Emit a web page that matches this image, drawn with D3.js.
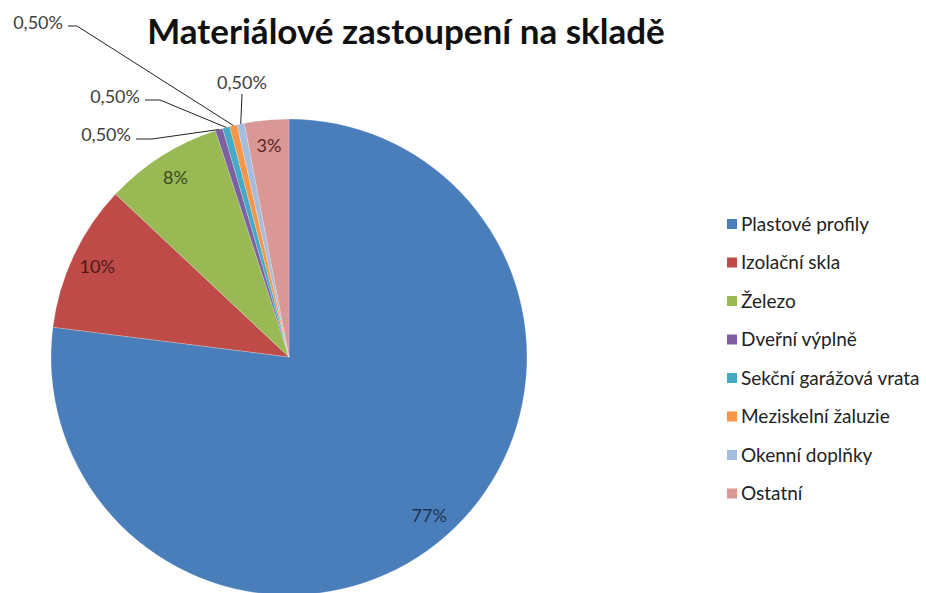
<!DOCTYPE html>
<html>
<head>
<meta charset="utf-8">
<script src="https://cdn.jsdelivr.net/npm/d3@7"></script>
<style>
  body { margin: 0; background: #fff; }
  svg { display: block; font-family: Lato, "Open Sans", sans-serif; }
</style>
</head>
<body>
<svg id="chart"></svg>
<script>
// data
const categories = [
  "Plastové profily",
  "Izolační skla",
  "Železo",
  "Dveřní výplně",
  "Sekční garážová vrata",
  "Meziskelní žaluzie",
  "Okenní doplňky",
  "Ostatní",
];
const values = [77, 10, 8, 0.5, 0.5, 0.5, 0.5, 3];
const valueLabels = ["77%", "10%", "8%", "0,50%", "0,50%", "0,50%", "0,50%", "3%"];
const colors = ["#4A7EBB", "#BE4B48", "#98B954", "#7D60A0", "#46AAC5", "#F79646", "#A5BDDD", "#D99795"];
const labelColors = ["#1c3354", "#4d1a19", "#3b4a20", "#404040", "#404040", "#404040", "#404040", "#5a2322"];

// callout labels for the tiny slices: [index, label x, label y, elbow x, elbow y]
const callouts = [
  [3, 131, 135, 152, 139],
  [4, 140, 97, 160, 100],
  [5, 63, 23, 77, 26],
  [6, 240, 83, 242, 94],
];

const width = 926, height = 593;
const cx = 289, cy = 357, r = 238;

const svg = d3.select("#chart").attr("width", width).attr("height", height);

svg.append("text")
  .attr("x", 406)
  .attr("y", 44)
  .attr("text-anchor", "middle")
  .attr("font-weight", "bold")
  .attr("font-size", 35)
  .attr("fill", "#111")
  .text("Materiálové zastoupení na skladě");

const pie = d3.pie().sort(null).value((d) => d);
const arcs = pie(values);
const arc = d3.arc().innerRadius(0).outerRadius(r);
const labelArc = d3.arc().innerRadius(212).outerRadius(212);
const edgeArc = d3.arc().innerRadius(r).outerRadius(r);

const g = svg.append("g").attr("transform", `translate(${cx},${cy})`);

g.selectAll("path")
  .data(arcs)
  .join("path")
  .attr("d", arc)
  .attr("fill", (d, i) => colors[i])
  .attr("stroke", "rgba(255,255,255,0.35)")
  .attr("stroke-width", 0.6);

// in-slice labels
g.selectAll("text.inside")
  .data(arcs.filter((d) => d.value >= 1))
  .join("text")
  .attr("class", "inside")
  .attr("transform", (d) => `translate(${labelArc.centroid(d)})`)
  .attr("text-anchor", "middle")
  .attr("dy", "0.35em")
  .attr("font-size", 18)
  .attr("fill", (d) => labelColors[d.index])
  .text((d) => valueLabels[d.index]);

// callouts with leader lines
const lineGen = d3.line();
callouts.forEach(([i, lx, ly, ex, ey]) => {
  const [px, py] = edgeArc.centroid(arcs[i]);
  const top = i === 6;
  const start = top ? [ex, ey] : [lx + 5, ey];
  svg.append("path")
    .attr("d", lineGen([start, [ex, ey], [px + cx, py + cy]]))
    .attr("fill", "none")
    .attr("stroke", "#222")
    .attr("stroke-width", 1);
  svg.append("text")
    .attr("x", top ? ex : lx)
    .attr("y", ly)
    .attr("dy", "0.35em")
    .attr("text-anchor", top ? "middle" : "end")
    .attr("font-size", 18)
    .attr("fill", "#404040")
    .text(valueLabels[i]);
});

// legend
const legend = svg.append("g").attr("transform", "translate(727,224)");
const row = legend.selectAll("g")
  .data(categories)
  .join("g")
  .attr("transform", (d, i) => `translate(0,${i * 38.5})`);
row.append("rect")
  .attr("x", 0).attr("y", -5)
  .attr("width", 10).attr("height", 10)
  .attr("fill", (d, i) => colors[i]);
row.append("text")
  .attr("x", 14)
  .attr("dy", "0.35em")
  .attr("font-size", 19)
  .attr("fill", "#222")
  .text((d) => d);
</script>
</body>
</html>
